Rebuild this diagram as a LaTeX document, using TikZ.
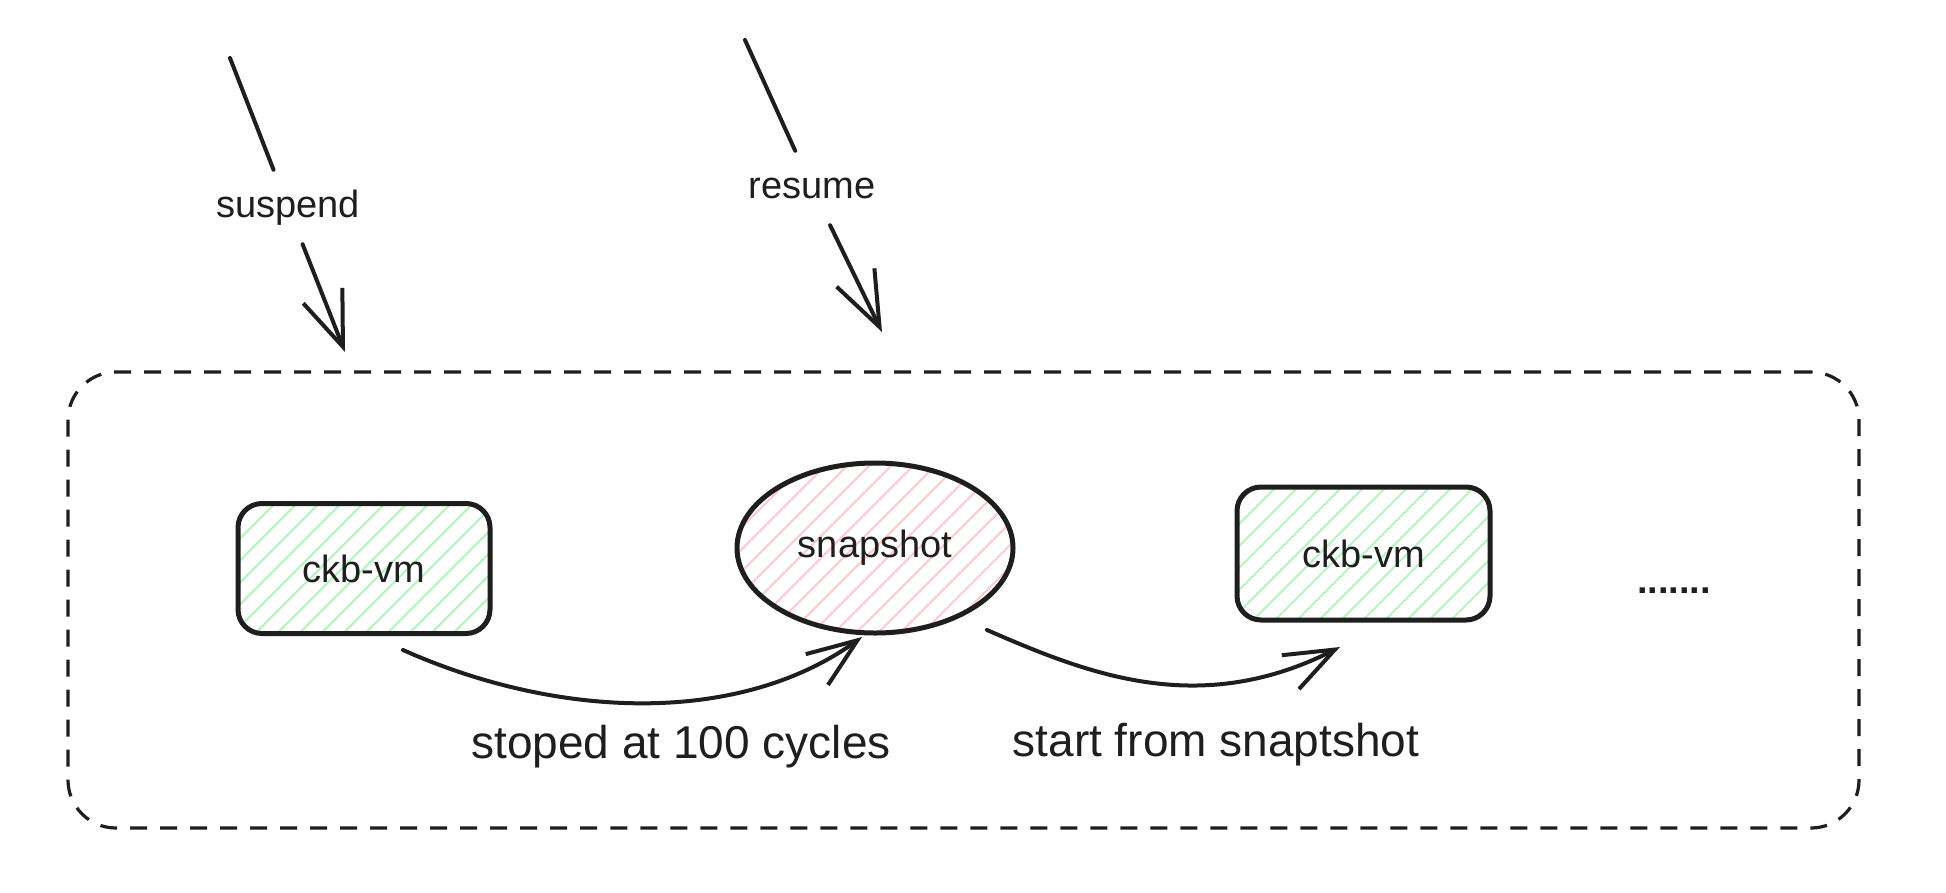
\documentclass[tikz,border=0pt]{standalone}
\usepackage{fontspec}
\setmainfont{Liberation Sans}
\usetikzlibrary{arrows.meta,calc,shapes.geometric}
\definecolor{ink}{HTML}{1E1E1E}
\definecolor{hgreen}{HTML}{B2F2BB}
\definecolor{hred}{HTML}{FFC9C9}
\begin{document}
\begin{tikzpicture}[x=1pt,y=-1pt,
  hatch/.style={path picture={\foreach \k in {-30,...,30}{\draw[#1,line width=1.8pt] ($(path picture bounding box.center)+(\k*22-250,250)$) -- ++(500,-500);}}},
  vmbox/.style={draw=ink, line width=5pt, rounded corners=24pt, minimum width=252pt, minimum height=130pt, hatch=hgreen, font=\fontsize{38}{40}\selectfont, text=ink},
  snapnode/.style={ellipse, draw=ink, line width=5pt, minimum width=276pt, minimum height=170pt, inner sep=0pt, hatch=hred, font=\fontsize{38}{40}\selectfont, text=ink},
  frame/.style={draw=ink, line width=3.2pt, dash pattern=on 17pt off 13pt, rounded corners=48pt, minimum width=1791pt, minimum height=456pt},
  toplabel/.style={font=\fontsize{38}{40}\selectfont, text=ink, text height=28pt, text depth=8pt, inner sep=19pt},
  botlabel/.style={font=\fontsize{46}{48}\selectfont, text=ink},
  conn/.style={draw=ink, line width=4pt, line cap=round, line join=round},
  tip/.style={-{Straight Barb[length=55pt,width=42pt,line width=4pt]}},
  tipsmall/.style={-{Straight Barb[length=50pt,width=38pt,line width=4pt]}}
]
\useasboundingbox (0,0) rectangle (1946,892);
\fill[white] (0,0) rectangle (1946,892);

\node[frame] (frame) at (963.5,600) {};

\node[vmbox] (vm1) at (364,568.5) {ckb-vm};
\node[snapnode] (snap) at (875,548) {snapshot};
\node[vmbox, minimum width=253pt, minimum height=133pt] (vm2) at (1363.5,553.5) {ckb-vm};
\node[font=\fontsize{38}{40}\selectfont\bfseries, text=ink] (dots) at (1674,591) {.......};

% top arrows
\coordinate (susTop) at (230,58);
\coordinate (susTip) at (345,352);
\node[toplabel] (susLbl) at (288,207) {suspend};
\draw[conn] (susTop) -- (susLbl);
\draw[conn, tip] (susLbl) -- (susTip);

\coordinate (resTop) at (745,40);
\coordinate (resTip) at (882,332);
\node[toplabel] (resLbl) at (812,188) {resume};
\draw[conn] (resTop) -- (resLbl);
\draw[conn, tip] (resLbl) -- (resTip);

% bottom arrows
\coordinate (a1s) at (403,650);
\coordinate (a1e) at (862,637);
\draw[conn, tipsmall] (a1s) .. controls (560,720) and (740,725) .. (a1e);
\coordinate (a2s) at (987,630);
\coordinate (a2e) at (1340,647);
\draw[conn, tipsmall] (a2s) .. controls (1090,675) and (1200,718) .. (a2e);

\node[botlabel] (lbl1) at (681,747) {stoped at 100 cycles};
\node[botlabel] (lbl2) at (1216,745) {start from snaptshot};
\end{tikzpicture}
\end{document}
